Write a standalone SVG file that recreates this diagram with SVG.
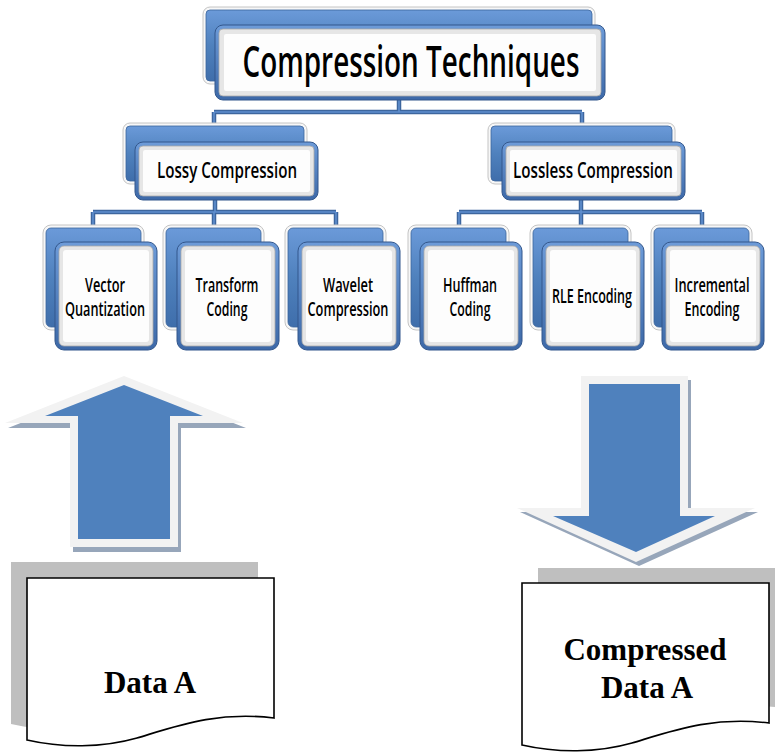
<svg xmlns="http://www.w3.org/2000/svg" width="775" height="752" viewBox="0 0 775 752">
<style>
.rim{fill:#f7f7f7;stroke:#c4c4c4;stroke-width:1}
.bk{fill:url(#bg);stroke:#3b659c;stroke-width:0.8}
.fr{fill:url(#fg);stroke:#33578c;stroke-width:1}
.in{fill:#e6e6e6;stroke:#a9a9a9;stroke-width:0.8}
.hi{fill:#fdfdfd}
.lbl{font-family:"Open Sans","Noto Sans","Liberation Sans",sans-serif;font-weight:600;fill:#000;text-anchor:middle}
.doc{fill:#fff;stroke:#000;stroke-width:1.6}
.dsh{fill:#bfbfbf}
.dt{font-family:"Liberation Serif","Times New Roman",serif;font-weight:bold;font-size:31px;fill:#000;text-anchor:middle}
.c1{fill:none;stroke:#3d669e;stroke-width:4.5}
.c2{fill:none;stroke:#5f8fcf;stroke-width:1.6}
</style>
<defs>
<linearGradient id="bg" x1="0" y1="0" x2="0" y2="1"><stop offset="0" stop-color="#6b9ad9"/><stop offset="0.5" stop-color="#4f81bd"/><stop offset="1" stop-color="#3f6eab"/></linearGradient>
<linearGradient id="fg" x1="0" y1="0" x2="0" y2="1"><stop offset="0" stop-color="#6d9bd8"/><stop offset="1" stop-color="#3d69a8"/></linearGradient>
<path id="docp" d="M0,0 H247 V140 C190,133 150,148 110,160 C75,170 35,170 0,162 Z"/>
</defs>

<g id="connectors">
<path class="c1" d="M399,100 V112 M214,112 H582 M214,112 V127 M582,112 V127 M215,200 V212 M93,212 H336 M93,212 V228 M214,212 V228 M336,212 V228 M581,200 V212 M459,212 H702 M459,212 V228 M581,212 V228 M702,212 V228"/>
<path class="c2" d="M399,100 V112 M214,112 H582 M214,112 V127 M582,112 V127 M215,200 V212 M93,212 H336 M93,212 V228 M214,212 V228 M336,212 V228 M581,200 V212 M459,212 H702 M459,212 V228 M581,212 V228 M702,212 V228"/>
</g>

<g id="n-top">
<rect class="rim" x="203" y="7" width="392" height="77" rx="7"/>
<rect class="bk" x="206" y="10" width="386" height="71" rx="4"/>
<rect class="fr" x="215" y="25" width="390" height="75" rx="8"/>
<rect class="in" x="219" y="29" width="382" height="67" rx="4"/>
<rect class="hi" x="224" y="34" width="372" height="57" rx="2"/>
<text class="lbl" x="411" y="77" font-size="44" textLength="337" lengthAdjust="spacingAndGlyphs">Compression Techniques</text>
</g>

<g id="n-lossy">
<rect class="rim" x="123" y="123" width="184" height="61" rx="7"/>
<rect class="bk" x="126" y="126" width="178" height="55" rx="4"/>
<rect class="fr" x="135" y="142" width="183" height="58" rx="8"/>
<rect class="in" x="139" y="146" width="175" height="50" rx="4"/>
<rect class="hi" x="143" y="150" width="167" height="42" rx="2"/>
<text class="lbl" x="227" y="178" font-size="22" textLength="140" lengthAdjust="spacingAndGlyphs">Lossy Compression</text>
</g>

<g id="n-lossless">
<rect class="rim" x="488" y="123" width="187" height="61" rx="7"/>
<rect class="bk" x="491" y="126" width="181" height="55" rx="4"/>
<rect class="fr" x="502" y="142" width="183" height="58" rx="8"/>
<rect class="in" x="506" y="146" width="175" height="50" rx="4"/>
<rect class="hi" x="510" y="150" width="167" height="42" rx="2"/>
<text class="lbl" x="593" y="178" font-size="22" textLength="160" lengthAdjust="spacingAndGlyphs">Lossless Compression</text>
</g>

<g id="n-vq">
<rect class="rim" x="43" y="225" width="101" height="105" rx="8"/>
<rect class="bk" x="46" y="228" width="95" height="99" rx="5"/>
<rect class="fr" x="55" y="242" width="102" height="108" rx="9"/>
<rect class="in" x="59" y="246" width="94" height="100" rx="5"/>
<rect class="hi" x="63" y="250" width="86" height="92" rx="3"/>
<text class="lbl" x="105" y="292" font-size="19" textLength="40" lengthAdjust="spacingAndGlyphs">Vector</text>
<text class="lbl" x="105" y="316" font-size="19" textLength="80" lengthAdjust="spacingAndGlyphs">Quantization</text>
</g>

<g id="n-tc">
<rect class="rim" x="163" y="225" width="101" height="105" rx="8"/>
<rect class="bk" x="166" y="228" width="95" height="99" rx="5"/>
<rect class="fr" x="177" y="242" width="102" height="108" rx="9"/>
<rect class="in" x="181" y="246" width="94" height="100" rx="5"/>
<rect class="hi" x="185" y="250" width="86" height="92" rx="3"/>
<text class="lbl" x="227" y="292" font-size="19" textLength="63" lengthAdjust="spacingAndGlyphs">Transform</text>
<text class="lbl" x="227" y="316" font-size="19" textLength="41" lengthAdjust="spacingAndGlyphs">Coding</text>
</g>

<g id="n-wc">
<rect class="rim" x="285" y="225" width="101" height="105" rx="8"/>
<rect class="bk" x="288" y="228" width="95" height="99" rx="5"/>
<rect class="fr" x="298" y="242" width="102" height="108" rx="9"/>
<rect class="in" x="302" y="246" width="94" height="100" rx="5"/>
<rect class="hi" x="306" y="250" width="86" height="92" rx="3"/>
<text class="lbl" x="348" y="292" font-size="19" textLength="50" lengthAdjust="spacingAndGlyphs">Wavelet</text>
<text class="lbl" x="348" y="316" font-size="19" textLength="81" lengthAdjust="spacingAndGlyphs">Compression</text>
</g>

<g id="n-hc">
<rect class="rim" x="408" y="225" width="101" height="105" rx="8"/>
<rect class="bk" x="411" y="228" width="95" height="99" rx="5"/>
<rect class="fr" x="420" y="242" width="102" height="108" rx="9"/>
<rect class="in" x="424" y="246" width="94" height="100" rx="5"/>
<rect class="hi" x="428" y="250" width="86" height="92" rx="3"/>
<text class="lbl" x="470" y="292" font-size="19" textLength="54" lengthAdjust="spacingAndGlyphs">Huffman</text>
<text class="lbl" x="470" y="316" font-size="19" textLength="41" lengthAdjust="spacingAndGlyphs">Coding</text>
</g>

<g id="n-rle">
<rect class="rim" x="530" y="225" width="101" height="105" rx="8"/>
<rect class="bk" x="533" y="228" width="95" height="99" rx="5"/>
<rect class="fr" x="542" y="242" width="102" height="108" rx="9"/>
<rect class="in" x="546" y="246" width="94" height="100" rx="5"/>
<rect class="hi" x="550" y="250" width="86" height="92" rx="3"/>
<text class="lbl" x="592" y="303" font-size="19" textLength="80" lengthAdjust="spacingAndGlyphs">RLE Encoding</text>
</g>

<g id="n-ie">
<rect class="rim" x="651" y="225" width="101" height="105" rx="8"/>
<rect class="bk" x="654" y="228" width="95" height="99" rx="5"/>
<rect class="fr" x="662" y="242" width="102" height="108" rx="9"/>
<rect class="in" x="666" y="246" width="94" height="100" rx="5"/>
<rect class="hi" x="670" y="250" width="86" height="92" rx="3"/>
<text class="lbl" x="712" y="292" font-size="19" textLength="75" lengthAdjust="spacingAndGlyphs">Incremental</text>
<text class="lbl" x="712" y="316" font-size="19" textLength="55" lengthAdjust="spacingAndGlyphs">Encoding</text>
</g>

<g id="arrow-up">
<path fill="#97a6ba" d="M127,381 L8,428 L73,428 L73,552 L181,552 L181,428 L246,428 Z"/>
<path fill="#f2f2f2" d="M124,376 L5,423 L70,423 L70,547 L178,547 L178,423 L243,423 Z"/>
<path fill="#4f81bd" d="M124,385 L45,416 L78,416 L78,539 L170,539 L170,416 L203,416 Z"/>
</g>

<g id="arrow-down">
<path fill="#97a6ba" d="M584,380 H691 V512 H758 L639,566 L520,512 H584 Z"/>
<path fill="#f2f2f2" d="M581,376 H688 V508 H755 L636,562 L517,508 H581 Z"/>
<path fill="#4f81bd" d="M589,384 H680 V516 H715 L636,552 L553,516 H589 Z"/>
</g>

<g id="doc-a">
<use href="#docp" class="dsh" transform="translate(11,562)"/>
<use href="#docp" class="doc" transform="translate(27,578)"/>
<text class="dt" x="150" y="693">Data A</text>
</g>

<g id="doc-b">
<use href="#docp" class="dsh" transform="translate(538,568)"/>
<use href="#docp" class="doc" transform="translate(522,583)"/>
<text class="dt" x="645" y="660">Compressed</text>
<text class="dt" x="647" y="698">Data A</text>
</g>
</svg>
